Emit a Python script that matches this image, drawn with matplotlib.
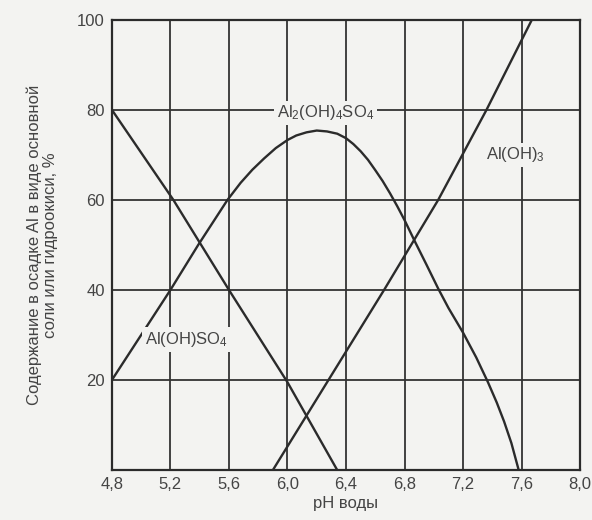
import numpy as np
import matplotlib.pyplot as plt

plt.rcParams['font.family'] = ['Liberation Sans', 'DejaVu Sans']
plt.rcParams['mathtext.fontset'] = 'custom'
plt.rcParams['mathtext.rm'] = 'Liberation Sans'
plt.rcParams['mathtext.it'] = 'Liberation Sans'

# pH и содержание, %
ph_a = [4.8, 5.22, 5.6, 6.0, 6.34]                 # Al(OH)SO4
val_a = [80, 60, 40, 19.5, 0]

ph_b = [4.8, 5.0, 5.2, 5.39, 5.59, 5.68, 5.76, 5.84, 5.92, 6.0, 6.06, 6.13,
        6.2, 6.27, 6.34, 6.4, 6.45, 6.5, 6.55, 6.6, 6.65, 6.7, 6.75, 6.8,
        6.87, 6.95, 7.03, 7.1, 7.2, 7.29, 7.37, 7.43, 7.48, 7.53, 7.58]   # Al2(OH)4SO4
val_b = [20, 30, 40, 50, 60, 63.8, 66.7, 69.2, 71.5, 73.3, 74.3, 75,
         75.4, 75.2, 74.7, 73.7, 72.4, 70.8, 68.9, 66.6, 64.2, 61.5, 58.6, 55.5,
         50.8, 45.6, 40.3, 36, 30.5, 25, 19.5, 15, 10.8, 6, 0]

ph_c = [5.9, 6.28, 6.66, 7.03, 7.36, 7.67]          # Al(OH)3
val_c = [0, 20, 40, 60, 80, 100]

xticks = [4.8, 5.2, 5.6, 6.0, 6.4, 6.8, 7.2, 7.6, 8.0]
xlabels = ['4,8', '5,2', '5,6', '6,0', '6,4', '6,8', '7,2', '7,6', '8,0']
yticks = [20, 40, 60, 80, 100]

bg = '#f3f3f1'
ink = '#2b2b2b'

fig = plt.figure(figsize=(5.92, 5.2), dpi=100, facecolor=bg)
ax = fig.add_axes([0.189, 0.096, 0.791, 0.866], facecolor=bg)

ax.plot(ph_a, val_a, color=ink, lw=1.7, zorder=3)
ax.plot(ph_b, val_b, color=ink, lw=1.7, zorder=3, solid_joinstyle='round')
ax.plot(ph_c, val_c, color=ink, lw=1.7, zorder=3)

ax.set_xlim(4.8, 8.0)
ax.set_ylim(0, 100)
ax.set_xticks(xticks)
ax.set_xticklabels(xlabels)
ax.set_yticks(yticks)
ax.grid(True, color='#333333', lw=1.3)
ax.set_axisbelow(True)
for s in ax.spines.values():
    s.set_color(ink)
    s.set_linewidth(1.6)
ax.tick_params(length=0, labelsize=12, labelcolor='#444444', pad=5)

lab = dict(fontsize=12, color='#444444', ha='center', va='center', zorder=4,
           bbox=dict(facecolor=bg, edgecolor='none', pad=2))
ax.text(6.26, 79.3, r'Al$_\mathrm{2}$(OH)$_\mathrm{4}$SO$_\mathrm{4}$', **lab)
ax.text(7.56, 70, r'Al(OH)$_\mathrm{3}$', **lab)
ax.text(5.31, 29, r'Al(OH)SO$_\mathrm{4}$', **lab)

ax.set_xlabel('pH воды', fontsize=12, color='#444444', labelpad=3)
ax.set_ylabel('Содержание в осадке Al в виде основной\nсоли или гидроокиси, %',
              fontsize=12, color='#444444', labelpad=14, linespacing=1.1)

plt.savefig('out.png', dpi=100, facecolor=bg)
